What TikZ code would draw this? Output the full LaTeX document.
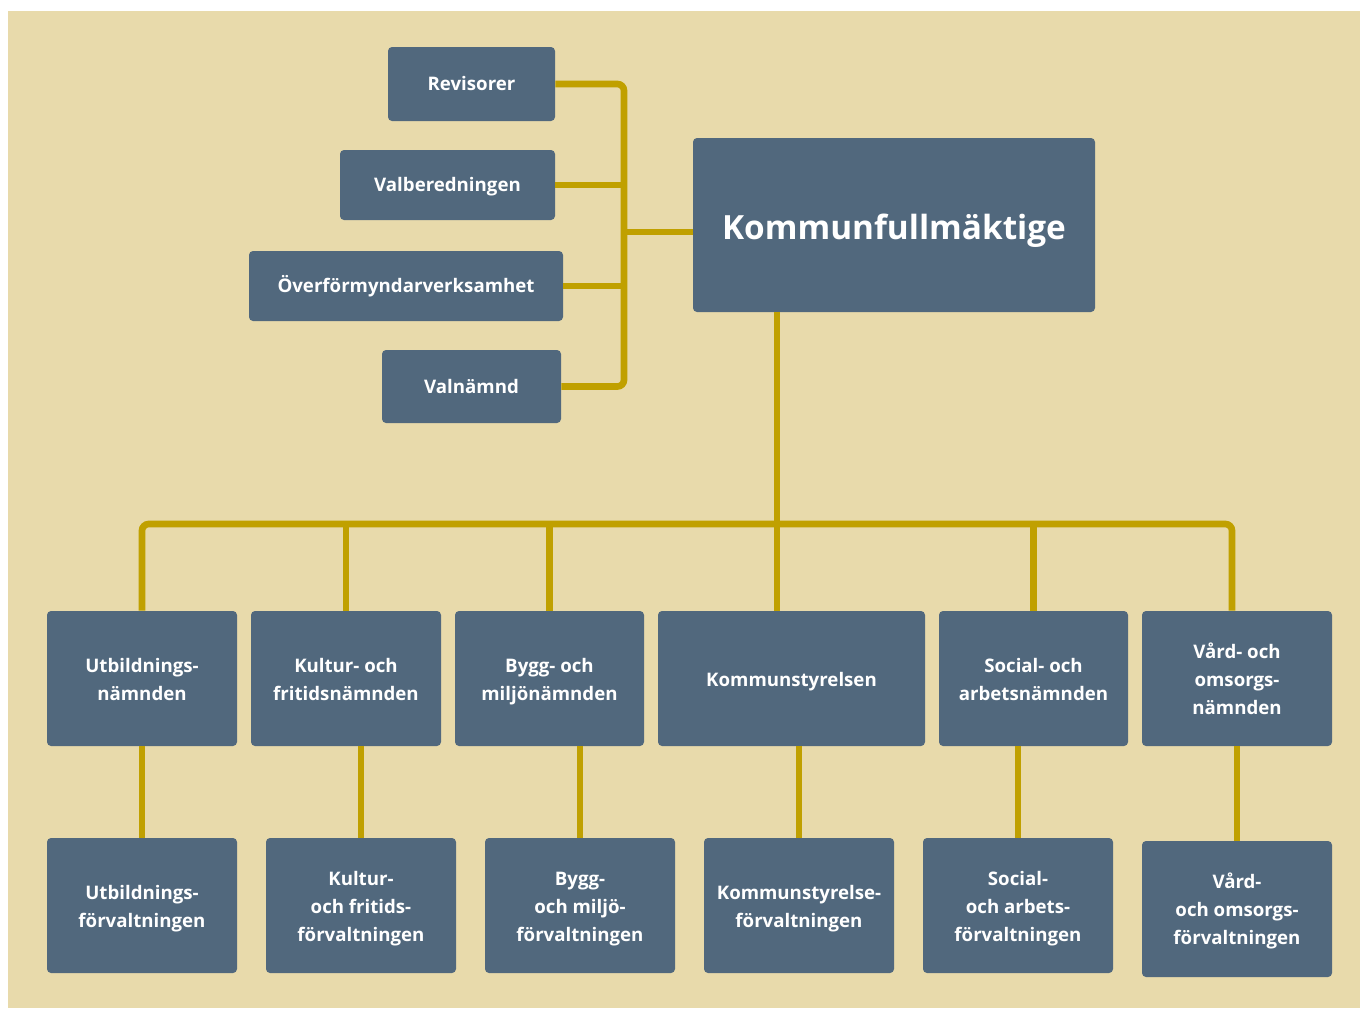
\documentclass[tikz,border=0pt]{standalone}
\usepackage{fontspec}
\setmainfont{Open Sans}
\newcommand\boxlbl[2][1.5pt]{\raisebox{-#1}[\height][\depth]{\begin{tabular}{@{}c@{}}#2\end{tabular}}}
\begin{document}
\begin{tikzpicture}[x=0.75pt,y=-0.75pt,
  box/.style={fill=boxc, rounded corners=3pt, text=white, align=center, inner sep=0pt,
    font=\fontsize{14}{21}\selectfont\bfseries},
  conn/.style={draw=linec, line width=5pt, rounded corners=5pt}]
\definecolor{bgc}{HTML}{E8DAAB}
\definecolor{boxc}{HTML}{51687D}
\definecolor{linec}{HTML}{C0A000}
\useasboundingbox (0,0) rectangle (1360,1008);
\fill[bgc] (8,11) rectangle (1360,1008);
% top-left group
\node[box, minimum width=125.25pt, minimum height=55.5pt] (rev) at (471.5,84) {\boxlbl[0.75pt]{Revisorer}};
\node[box, minimum width=161.25pt, minimum height=52.5pt] (val) at (447.5,185) {\boxlbl[0.75pt]{Valberedningen}};
\node[box, minimum width=235.5pt, minimum height=52.5pt] (ovf) at (406,286) {\boxlbl[0.75pt]{Överförmyndarverksamhet}};
\node[box, minimum width=134.25pt, minimum height=54.75pt] (valn) at (471.5,386.5) {\boxlbl[0.75pt]{Valnämnd}};
\node[box, minimum width=301.5pt, minimum height=130.5pt, font=\fontsize{25}{30}\selectfont\bfseries] (kf) at (894,225) {\boxlbl[5pt]{Kommunfullmäktige}};
% row 1
\node[box, minimum width=142.5pt, minimum height=101.25pt] (un) at (142,678.5) {\boxlbl{Utbildnings-\\nämnden}};
\node[box, minimum width=142.5pt, minimum height=101.25pt] (kn) at (346,678.5) {\boxlbl{Kultur- och\\fritidsnämnden}};
\node[box, minimum width=141.75pt, minimum height=101.25pt] (bn) at (549.5,678.5) {\boxlbl{Bygg- och\\miljönämnden}};
\node[box, minimum width=200.25pt, minimum height=101.25pt] (ks) at (791.5,678.5) {\boxlbl{Kommunstyrelsen}};
\node[box, minimum width=141.75pt, minimum height=101.25pt] (sn) at (1033.5,678.5) {\boxlbl{Social- och\\arbetsnämnden}};
\node[box, minimum width=142.5pt, minimum height=101.25pt] (vn) at (1237,678.5) {\boxlbl{Vård- och\\omsorgs-\\nämnden}};
% row 2
\node[box, minimum width=142.5pt, minimum height=101.25pt] (uf) at (142,905.5) {\boxlbl{Utbildnings-\\förvaltningen}};
\node[box, minimum width=142.5pt, minimum height=101.25pt] (kff) at (361,905.5) {\boxlbl{Kultur-\\och fritids-\\förvaltningen}};
\node[box, minimum width=142.5pt, minimum height=101.25pt] (bf) at (580,905.5) {\boxlbl{Bygg-\\och miljö-\\förvaltningen}};
\node[box, minimum width=142.5pt, minimum height=101.25pt] (ksf) at (799,905.5) {\boxlbl{Kommunstyrelse-\\förvaltningen}};
\node[box, minimum width=142.5pt, minimum height=101.25pt] (sf) at (1018,905.5) {\boxlbl{Social-\\och arbets-\\förvaltningen}};
\node[box, minimum width=142.5pt, minimum height=102pt] (vf) at (1237,909) {\boxlbl{Vård-\\och omsorgs-\\förvaltningen}};
% coordinates
\coordinate (br) at (624,232);
\coordinate (kfw) at (693,232);
\coordinate (tk) at (777,524);
\coordinate (bl) at (142,524);
\coordinate (brr) at (1232,524);
% connectors top-left
\draw[conn] (rev.east) -| (br) |- (valn.east);
\draw[conn] (val.east) -- (val.east -| br);
\draw[conn] (ovf.east) -- (ovf.east -| br);
\draw[conn] (br) -- (kfw);
% trunk
\draw[conn] (tk |- kf.south) -- (tk |- ks.north);
\draw[conn] (un.north) -- (bl) -- (brr) -- (brr |- vn.north);
\draw[conn] (kn.north) -- (kn.north |- tk);
\draw[conn] (bn.north) -- (bn.north |- tk);
\draw[conn] (sn.north) -- (sn.north |- tk);
% row connectors
\draw[conn] (un.south) -- (uf.north);
\draw[conn] (kff.north |- kn.south) -- (kff.north);
\draw[conn] (bf.north |- bn.south) -- (bf.north);
\draw[conn] (ksf.north |- ks.south) -- (ksf.north);
\draw[conn] (sf.north |- sn.south) -- (sf.north);
\draw[conn] (vn.south) -- (vf.north);
\end{tikzpicture}
\end{document}
